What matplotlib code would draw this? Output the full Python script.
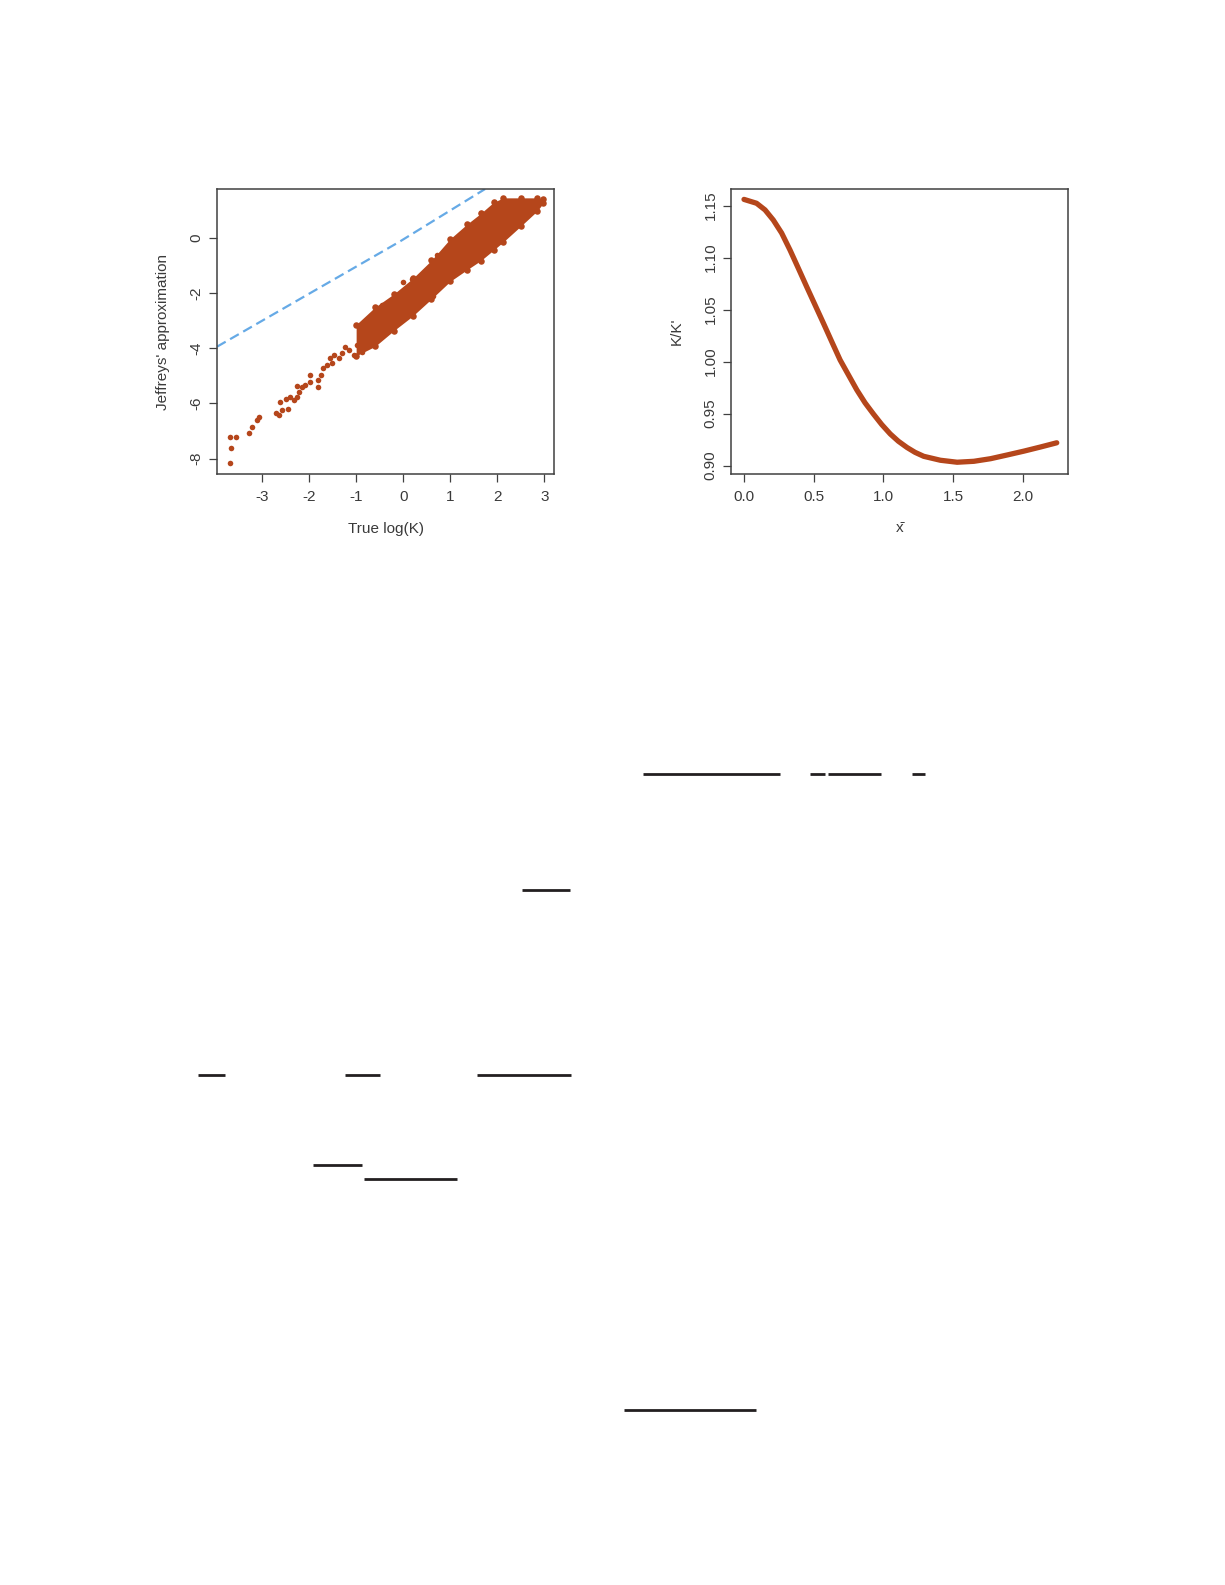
from __future__ import annotations

# Se importa matplotlib sin pantalla para generar la figura.
import matplotlib

matplotlib.use("Agg")
import matplotlib.pyplot as plt

# Tipografía parecida a Helvetica, como en los gráficos de R.
plt.rcParams["font.family"] = ["Liberation Sans", "DejaVu Sans"]

# Colores.
POINT_COLOR = "#B5461B"
DASH_COLOR = "#66AAE6"
TEXT_COLOR = "#3a3a3a"
FRAME_COLOR = "#404040"
RULE_COLOR = "#231F20"

# ---------------------------------------------------------------------------
# Datos del panel izquierdo (log(K) real frente a la aproximación de Jeffreys)
# ---------------------------------------------------------------------------
# Puntos dispersos de la cola izquierda y alrededor de la nube.
sparse_x = [
    -3.69, -3.55, -3.65, -3.67, -3.28, -3.21, -3.11, -3.06, -2.70, -2.63,
    -2.57, -2.45, -2.61, -2.50, -2.40, -2.33, -2.25, -2.22, -2.25, -2.15,
    -2.08, -1.97, -1.99, -1.82, -1.80, -1.75, -1.70, -1.62, -1.55, -1.48,
    -1.51, -1.37, -1.30, -1.23, -1.16, -1.05, -0.98, -0.87, -0.84,
    0.00, 0.18, 0.71, 0.64, 1.65, -0.46, -0.21, 1.07,
]
sparse_y = [
    -7.23, -7.23, -7.61, -8.17, -7.09, -6.87, -6.60, -6.51, -6.36, -6.42,
    -6.24, -6.19, -5.95, -5.86, -5.78, -5.88, -5.76, -5.58, -5.37, -5.42,
    -5.34, -4.97, -5.22, -5.42, -5.16, -4.97, -4.73, -4.61, -4.37, -4.25,
    -4.55, -4.37, -4.19, -3.95, -4.07, -4.25, -3.89, -4.13, -3.59,
    -1.59, -1.51, -0.63, -2.10, 0.89, -2.44, -3.13, -0.12,
]
# Bordes de la nube densa de puntos.
band_x = [-1.00, -0.60, -0.20, 0.20, 0.60, 1.00, 1.35, 1.65, 1.92, 2.13, 2.50, 2.85, 2.97]
band_upper = [-3.15, -2.52, -2.04, -1.48, -0.82, -0.04, 0.48, 0.88, 1.28, 1.44, 1.44, 1.44, 1.38]
band_lower = [-4.28, -3.94, -3.37, -2.84, -2.22, -1.58, -1.17, -0.83, -0.45, -0.15, 0.42, 0.97, 1.24]
# Recta de referencia discontinua.
reference_x = [-3.956, -0.07, 1.74]
reference_y = [-3.95, -0.14, 1.76]
left_xticks = [-3, -2, -1, 0, 1, 2, 3]
left_yticks = [-8, -6, -4, -2, 0]

# ---------------------------------------------------------------------------
# Datos del panel derecho (K/K' frente a la media muestral)
# ---------------------------------------------------------------------------
xbar_values = [
    0.00, 0.09, 0.151, 0.21, 0.27, 0.33, 0.39, 0.45, 0.51, 0.57,
    0.63, 0.69, 0.75, 0.81, 0.869, 0.93, 0.989, 1.05, 1.108, 1.17,
    1.228, 1.29, 1.41, 1.53, 1.65, 1.77, 1.89, 2.01, 2.13, 2.245,
]
ratio_values = [
    1.156, 1.1523, 1.1459, 1.1362, 1.1237, 1.1074, 1.0898, 1.072, 1.0545, 1.037,
    1.0192, 1.0016, 0.9872, 0.9728, 0.9604, 0.9495, 0.9395, 0.9305, 0.9235, 0.9175,
    0.9128, 0.9090, 0.9052, 0.9033, 0.9042, 0.9067, 0.9103, 0.914, 0.918, 0.922,
]
right_xticks = [0.0, 0.5, 1.0, 1.5, 2.0]
right_yticks = [0.90, 0.95, 1.00, 1.05, 1.10, 1.15]

# ---------------------------------------------------------------------------
# Barras de fracción que quedan en la página (y, x inicial, x final) en píxeles
# ---------------------------------------------------------------------------
rule_y = [773.7, 773.7, 773.7, 773.7, 890, 1074.7, 1074.7, 1074.7, 1164.7, 1179, 1410]
rule_x0 = [643, 810, 828, 912, 522, 198, 345, 477, 313, 364, 624]
rule_x1 = [780, 825, 881, 925, 570, 225, 380, 571, 362, 457, 756]


# Esta función aplica el estilo de los ejes de R a un panel.
def style_axes(ax, xticks, yticks, xlabels, ylabels) -> None:
    """Marco, marcas y rótulos al estilo de R base."""

    for spine in ax.spines.values():
        spine.set_color(FRAME_COLOR)
        spine.set_linewidth(1.1)
    ax.set_xticks(xticks)
    ax.set_xticklabels(xlabels)
    ax.set_yticks(yticks)
    ax.set_yticklabels(ylabels)
    ax.tick_params(
        axis="both", direction="out", length=5.5, width=0.9,
        color=FRAME_COLOR, labelcolor=TEXT_COLOR, labelsize=11,
    )
    ax.tick_params(axis="x", pad=6)
    ax.tick_params(axis="y", pad=4, labelrotation=90)
    for label in ax.get_yticklabels():
        label.set_va("center")


# Esta función coloca los títulos de los ejes centrados en la posición leída.
def place_axis_labels(ax, xlabel: str, ylabel: str, x_offset: float, y_offset: float) -> None:
    """Rótulos de los ejes con su centro en coordenadas de los ejes."""

    ax.set_xlabel(xlabel, fontsize=11, color=TEXT_COLOR, va="center")
    ax.set_ylabel(ylabel, fontsize=11, color=TEXT_COLOR, va="center")
    ax.xaxis.set_label_coords(0.5, y_offset)
    ax.yaxis.set_label_coords(x_offset, 0.5)


# Se crea la página completa.
fig = plt.figure(figsize=(12.25, 15.85), dpi=100)

# Capa de fondo para las barras de fracción.
page = fig.add_axes([0, 0, 1, 1])
page.set_xlim(0, 1225)
page.set_ylim(1585, 0)
page.axis("off")
page.hlines(rule_y, rule_x0, rule_x1, colors=RULE_COLOR, linewidth=2.0)

# Panel izquierdo.
ax_left = fig.add_axes([217 / 1225, 1 - 474.3 / 1585, 337.3 / 1225, 285.3 / 1585])
ax_left.plot(
    reference_x, reference_y, color=DASH_COLOR, linewidth=1.6,
    dashes=(4.5, 2.3), zorder=1,
)
ax_left.fill_between(band_x, band_lower, band_upper, color=POINT_COLOR, linewidth=0, zorder=2)
ax_left.scatter(band_x, band_upper, s=22, color=POINT_COLOR, linewidths=0, zorder=3)
ax_left.scatter(band_x, band_lower, s=22, color=POINT_COLOR, linewidths=0, zorder=3)
ax_left.scatter(sparse_x, sparse_y, s=16, color=POINT_COLOR, linewidths=0, zorder=3)
ax_left.set_xlim(-3.956, 3.21)
ax_left.set_ylim(-8.57, 1.76)
style_axes(
    ax_left, left_xticks, left_yticks,
    [str(v) for v in left_xticks], [str(v) for v in left_yticks],
)
place_axis_labels(ax_left, "True log(K)", "Jeffreys' approximation", -0.16, -0.192)

# Panel derecho.
ax_right = fig.add_axes([730.7 / 1225, 1 - 474.3 / 1585, 337.6 / 1225, 285.3 / 1585])
ax_right.plot(
    xbar_values, ratio_values, color=POINT_COLOR, linewidth=3.8,
    solid_capstyle="round", solid_joinstyle="round",
)
ax_right.set_xlim(-0.0955, 2.328)
ax_right.set_ylim(0.8917, 1.166)
style_axes(
    ax_right, right_xticks, right_yticks,
    [f"{v:.1f}" for v in right_xticks], [f"{v:.2f}" for v in right_yticks],
)
place_axis_labels(ax_right, "x\u0304", "K/K'", -0.16, -0.188)

# Se guarda la figura.
fig.savefig("out.png", dpi=100)
plt.close(fig)
